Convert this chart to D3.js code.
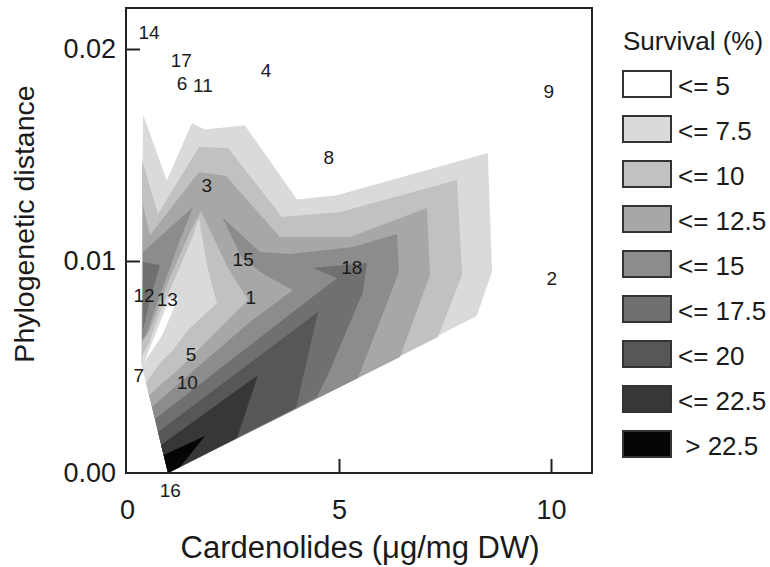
<!DOCTYPE html>
<html>
<head>
<meta charset="utf-8">
<script src="https://cdn.jsdelivr.net/npm/d3@7/dist/d3.min.js"></script>
<style>
  body { margin: 0; background: #ffffff; }
  svg { display: block; font-family: "Liberation Sans", Arial, sans-serif; }
</style>
</head>
<body>
<svg id="chart" width="770" height="567"></svg>
<script>
"use strict";

// survival classes (legend, light -> dark)
const classLabels = ["<= 5", "<= 7.5", "<= 10", "<= 12.5", "<= 15", "<= 17.5", "<= 20", "<= 22.5", " > 22.5"];
const classColors = ["#ffffff", "#dadada", "#c1c1c1", "#a7a7a7", "#8c8c8c", "#707070", "#575757", "#373737", "#050505"];

// filled contour regions, [cardenolides, phylogenetic distance]
// each region = area where survival is above the class threshold
const hullRegion = [[0.38, 0.0169], [0.94, 0.0138], [1.53, 0.0165], [1.84, 0.0162], [2.78, 0.0164], [4.01, 0.0129], [4.95, 0.0131], [8.51, 0.0151], [8.61, 0.0095], [8.25, 0.0074], [0.97, 0], [0.33, 0.0052]];
const lowPocket = [[1.0, 0.0082], [1.22, 0.0083], [0.83, 0.0065], [0.40, 0.0052]];
const above75 = [[0.354, 0.01476], [0.731, 0.01222], [1.698, 0.01538], [2.382, 0.01533], [3.656, 0.01208], [5.024, 0.01231], [7.783, 0.01382], [7.901, 0.00934], [7.335, 0.00642], [0.967, 0], [0.448, 0.00425], [0.778, 0.00519], [1.085, 0.0058], [1.439, 0.00675], [2.123, 0.00802], [1.91, 0.00958], [1.722, 0.0117], [1.698, 0.01203], [1.557, 0.01118], [1.156, 0.00929], [0.778, 0.00759], [0.519, 0.00613], [0.354, 0.00552]];
const above10 = [[0.377, 0.01264], [0.542, 0.01123], [1.698, 0.0142], [2.335, 0.01401], [3.608, 0.01113], [5.259, 0.01113], [7.075, 0.0125], [7.146, 0.00934], [6.439, 0.00547], [0.967, 0], [0.519, 0.00368], [1.25, 0.00495], [2.075, 0.0066], [2.854, 0.00816], [2.382, 0.00967], [1.863, 0.01184], [1.745, 0.01236], [1.486, 0.01137], [0.967, 0.00901], [0.542, 0.00675], [0.354, 0.00618]];
const above125 = [[2.241, 0.01208], [3.137, 0.01042], [3.844, 0.01033], [5.33, 0.01066], [6.368, 0.01127], [6.415, 0.00948], [5.448, 0.00448], [0.967, 0], [0.59, 0.00311], [1.722, 0.00509], [2.901, 0.00712], [3.915, 0.00863], [3.255, 0.00934], [2.712, 0.01014]];
const above125Ridge = [[0.377, 0.01042], [1.557, 0.01255], [1.25, 0.01099], [0.778, 0.0084], [0.448, 0.00651], [0.354, 0.00627]];
const above15 = [[4.387, 0.00967], [5.66, 0.00991], [5.566, 0.00854], [4.788, 0.00486], [4.481, 0.00358], [0.967, 0], [0.66, 0.00255], [4.953, 0.0092]];
const above15Ridge = [[0.377, 0.00995], [0.778, 0.00981], [0.542, 0.00816], [0.377, 0.00675]];
const above175 = [[0.967, 0], [0.731, 0.00193], [4.505, 0.00759], [3.986, 0.00307]];
const above20 = [[0.967, 0], [0.802, 0.00132], [3.09, 0.00462], [2.594, 0.00165]];
const above225 = [[0.967, 0], [0.865, 0.00085], [1.84, 0.00175], [1.25, 0.00028]];

// numbered populations
const popIds = ["14", "17", "6", "11", "4", "9", "8", "3", "15", "18", "12", "13", "1", "2", "5", "7", "10", "16"];
const popX = [0.52, 1.28, 1.30, 1.79, 3.28, 9.95, 4.76, 1.88, 2.74, 5.30, 0.40, 0.95, 2.92, 10.02, 1.51, 0.28, 1.42, 1.02];
const popY = [0.0208, 0.01946, 0.01837, 0.0183, 0.0190, 0.0180, 0.0149, 0.0136, 0.0101, 0.0097, 0.0084, 0.0082, 0.0083, 0.0092, 0.0056, 0.0046, 0.0043, -0.0008];

const xTicks = [0, 5, 10];
const yTicks = [0, 0.01, 0.02];

const svg = d3.select("#chart");
const frame = { left: 126, right: 592, top: 8, bottom: 473 };

const x = d3.scaleLinear().domain([0, 10]).range([127, 551]);
const y = d3.scaleLinear().domain([0, 0.02]).range([473, 49]);

// painter's order: lower classes first, higher survival on top
const layers = [
  { ring: hullRegion, cls: 1 },
  { ring: lowPocket, cls: 0 },
  { ring: above75, cls: 2 },
  { ring: above10, cls: 3 },
  { ring: above125, cls: 4 },
  { ring: above125Ridge, cls: 4 },
  { ring: above15, cls: 5 },
  { ring: above15Ridge, cls: 5 },
  { ring: above175, cls: 6 },
  { ring: above20, cls: 7 },
  { ring: above225, cls: 8 },
];

const line = d3.line().x((d) => x(d[0])).y((d) => y(d[1]));

svg
  .append("g")
  .selectAll("path")
  .data(layers)
  .join("path")
  .attr("d", (d) => line(d.ring) + "Z")
  .attr("fill", (d) => classColors[d.cls])
  .attr("stroke", "none");

// population numbers
svg
  .append("g")
  .selectAll("text")
  .data(popIds)
  .join("text")
  .attr("x", (d, i) => x(popX[i]))
  .attr("y", (d, i) => y(popY[i]))
  .attr("dy", "0.36em")
  .attr("text-anchor", "middle")
  .attr("font-size", 19)
  .attr("fill", "#1a1a1a")
  .text((d) => d);

// axes
const xAxis = svg
  .append("g")
  .attr("transform", `translate(0,${frame.bottom})`)
  .call(d3.axisBottom(x).tickValues(xTicks).tickSize(-14).tickPadding(27).tickFormat(d3.format("d")));
const yAxis = svg
  .append("g")
  .attr("transform", `translate(${frame.left},0)`)
  .call(d3.axisLeft(y).tickValues(yTicks).tickSize(-14).tickPadding(10).tickFormat(d3.format(".2f")));

[xAxis, yAxis].forEach((g) => {
  g.select(".domain").remove();
  g.selectAll(".tick line").attr("stroke", "#222").attr("stroke-width", 2);
  g.selectAll(".tick text").attr("font-size", 27).attr("fill", "#1a1a1a").attr("font-family", null);
  g.selectAll(".tick").filter((d) => d === 0).select("line").remove();
});

svg
  .append("rect")
  .attr("x", frame.left)
  .attr("y", frame.top)
  .attr("width", frame.right - frame.left)
  .attr("height", frame.bottom - frame.top)
  .attr("fill", "none")
  .attr("stroke", "#222")
  .attr("stroke-width", 2);

svg
  .append("text")
  .attr("x", 360)
  .attr("y", 558)
  .attr("text-anchor", "middle")
  .attr("font-size", 31)
  .attr("fill", "#1a1a1a")
  .text("Cardenolides (\u03bcg/mg DW)");

svg
  .append("text")
  .attr("transform", "translate(34,224) rotate(-90)")
  .attr("text-anchor", "middle")
  .attr("font-size", 28.5)
  .attr("fill", "#1a1a1a")
  .text("Phylogenetic distance");

// legend
const legend = svg.append("g").attr("transform", "translate(622,0)");
legend
  .append("text")
  .attr("x", 1)
  .attr("y", 50)
  .attr("font-size", 26)
  .attr("fill", "#1a1a1a")
  .text("Survival (%)");

const rows = legend
  .selectAll("g.row")
  .data(classLabels)
  .join("g")
  .attr("class", "row")
  .attr("transform", (d, i) => `translate(0,${70 + i * 45})`);

rows
  .append("rect")
  .attr("x", 1)
  .attr("y", 1)
  .attr("width", 48)
  .attr("height", 26)
  .attr("fill", (d, i) => classColors[i])
  .attr("stroke", "#333")
  .attr("stroke-width", 2);

rows
  .append("text")
  .attr("x", 56)
  .attr("y", 25)
  .attr("font-size", 26)
  .attr("fill", "#1a1a1a")
  .style("white-space", "pre")
  .text((d) => d);
</script>
</body>
</html>
